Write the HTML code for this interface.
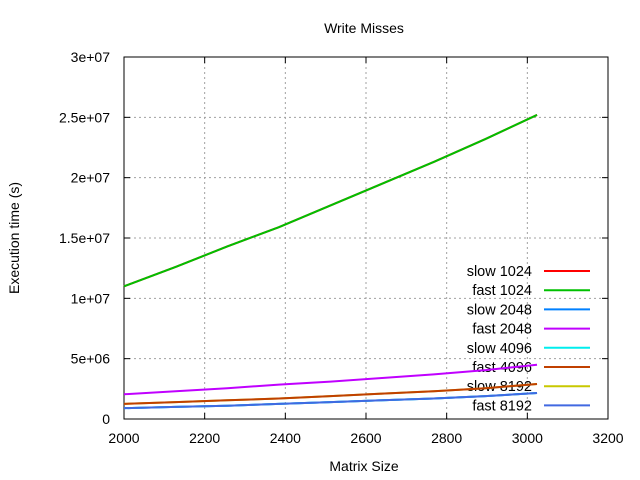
<!DOCTYPE html>
<html><head><meta charset="utf-8"><style>body{margin:0;background:#fff}svg{display:block;font-family:"Liberation Sans",sans-serif}</style></head>
<body>
<svg id="c" width="640" height="480"></svg>
<script>
const sizes=[2000,2128,2256,2384,2512,2640,2768,2896,3024];
const fast1024=[11.0e6,12.6e6,14.3e6,15.9e6,17.7e6,19.5e6,21.3e6,23.2e6,25.2e6];
const slow1024=[11.0e6,12.6e6,14.3e6,15.9e6,17.7e6,19.5e6,21.3e6,23.2e6,25.2e6];
const fast2048=[2.05e6,2.3e6,2.55e6,2.85e6,3.1e6,3.4e6,3.7e6,4.05e6,4.5e6];
const slow2048=[0.9e6,1.0e6,1.1e6,1.25e6,1.4e6,1.55e6,1.7e6,1.9e6,2.15e6];
const fast4096=[1.25e6,1.4e6,1.55e6,1.7e6,1.9e6,2.1e6,2.3e6,2.55e6,2.9e6];
const slow4096=[0.9e6,1.0e6,1.1e6,1.25e6,1.4e6,1.55e6,1.7e6,1.9e6,2.15e6];
const slow8192=[1.25e6,1.4e6,1.55e6,1.7e6,1.9e6,2.1e6,2.3e6,2.55e6,2.9e6];
const fast8192=[0.9e6,1.0e6,1.1e6,1.25e6,1.4e6,1.55e6,1.7e6,1.9e6,2.15e6];
const xTicks=[2000,2200,2400,2600,2800,3000,3200];
const yTicks=[0,5e6,1e7,1.5e7,2e7,2.5e7,3e7];
const yTickLabels=["0","5e+06","1e+07","1.5e+07","2e+07","2.5e+07","3e+07"];
const L=124,R=608,T=57,B=419;
const X=v=>L+(v-2000)/1200*(R-L), Y=v=>B-v/3e7*(B-T);
const svg=document.getElementById('c');const NS='http://www.w3.org/2000/svg';
function el(t,a,txt){const e=document.createElementNS(NS,t);for(const k in a)e.setAttribute(k,a[k]);if(txt!=null)e.textContent=txt;svg.appendChild(e);return e;}
xTicks.forEach(t=>{const x=X(t);
 if(t>2000&&t<3200){const g=el('line',{x1:x,x2:x,y1:T,y2:B,stroke:'#a0a0a0','stroke-dasharray':'2,3'});}
 el('line',{x1:x,x2:x,y1:B,y2:B-6,stroke:'#000'});el('line',{x1:x,x2:x,y1:T,y2:T+6,stroke:'#000'});
 const tx=el('text',{x:x,y:443,'text-anchor':'middle','font-size':14},String(t));});
yTicks.forEach((t,i)=>{const y=Y(t);
 if(i>0&&i<yTicks.length-1){const g=el('line',{x1:L,x2:R,y1:y,y2:y,stroke:'#a0a0a0','stroke-dasharray':'2,3'});}
 el('line',{x1:L,x2:L+6,y1:y,y2:y,stroke:'#000'});el('line',{x1:R,x2:R-6,y1:y,y2:y,stroke:'#000'});
 const tx=el('text',{x:110,y:y+5,'text-anchor':'end','font-size':14},yTickLabels[i]);});
const bd=el('rect',{x:L,y:T,width:R-L,height:B-T,fill:'none',stroke:'#000'});
const series=[["slow 1024",slow1024,"#ff0000"],["fast 1024",fast1024,"#00c000"],["slow 2048",slow2048,"#0080ff"],["fast 2048",fast2048,"#c000ff"],["slow 4096",slow4096,"#00eeee"],["fast 4096",fast4096,"#c04000"],["slow 8192",slow8192,"#c8c800"],["fast 8192",fast8192,"#4169e1"]];
series.forEach((s,i)=>{const ly=271+i*19.2;
 const t=el('text',{x:532,y:ly+5,'text-anchor':'end','font-size':14.5},s[0]);
 const l=el('line',{x1:544,x2:590,y1:ly,y2:ly,stroke:s[2],'stroke-width':2});});
const drawOrder=series.filter(s=>s[0].startsWith('slow')).concat(series.filter(s=>s[0].startsWith('fast')));
drawOrder.forEach(s=>{const p=el('polyline',{points:sizes.map((v,j)=>X(v)+','+Y(s[1][j])).join(' '),fill:'none',stroke:s[2],'stroke-width':2});
 });
const ti=el('text',{x:364,y:33,'text-anchor':'middle','font-size':14},'Write Misses');
const xl=el('text',{x:364,y:471,'text-anchor':'middle','font-size':14},'Matrix Size');
const yl=el('text',{x:19,y:238,'text-anchor':'middle','font-size':14,transform:'rotate(-90 19 238)'},'Execution time (s)');
</script>
</body></html>
